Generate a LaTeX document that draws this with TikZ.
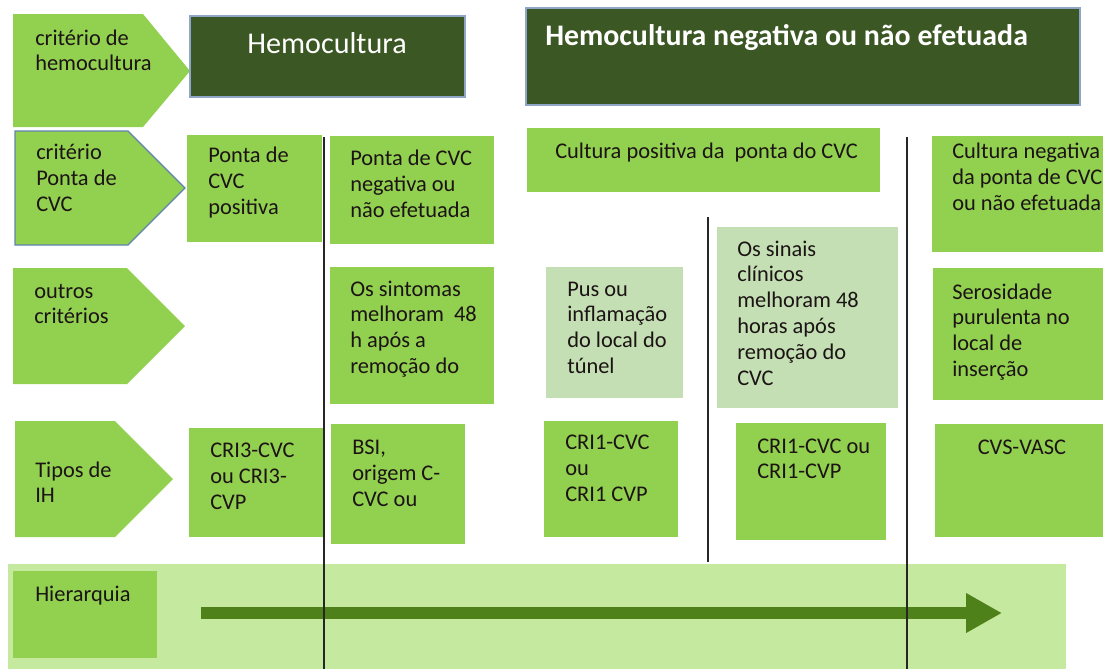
\documentclass[tikz,border=0pt]{standalone}
\usepackage{fontspec}
\setmainfont{Carlito}
\usetikzlibrary{arrows.meta}
\definecolor{gmain}{RGB}{146,208,80}
\definecolor{glight}{RGB}{196,223,180}
\definecolor{gband}{RGB}{197,233,158}
\definecolor{gdark}{RGB}{59,87,35}
\definecolor{garrow}{RGB}{79,129,27}
\definecolor{edgeblue}{RGB}{95,130,175}
\definecolor{txt}{RGB}{28,20,20}
\tikzset{
  gfill/.style={fill=gmain},
  lfill/.style={fill=glight},
  darkbox/.style={fill=gdark, draw=edgeblue!70, line width=0.8pt},
  lbl/.style={anchor=base west, inner sep=0pt, align=left, text=txt,
    font=\fontsize{16.8}{19.4}\selectfont},
  head/.style={inner sep=0pt, text=white},
  divider/.style={draw=black!85, line width=1.1pt},
}
\begin{document}
\begin{tikzpicture}[x=0.75pt,y=-0.75pt]
\useasboundingbox (0,0) rectangle (1103,669);

% hierarchy band
\fill[gband] (8,564) rectangle (1066,669);
\fill[gfill] (13,571) rectangle (157,658);
\node[lbl] (hier) at (35,601) {Hierarquia};
\coordinate (aStart) at (201,613);
\coordinate (aEnd) at (1002,613);
\draw[garrow, line width=9pt, -{Triangle[length=27pt,width=28pt]}] (aStart) -- (aEnd);

% chevrons (label anchors are at the baseline of the last line)
\fill[gmain] (13,14) -- (143,14) -- (190,71) -- (143,127) -- (13,127) -- cycle;
\node[lbl] (c1) at (35,70.9) {critério de\\hemocultura};
\filldraw[gmain, draw=edgeblue, line width=1pt] (15,131) -- (128,131) -- (185,188) -- (128,245) -- (15,245) -- cycle;
\node[lbl] (c2) at (36,211.7) {critério\\Ponta de\\CVC};
\fill[gmain] (13,268) -- (127,268) -- (185,326) -- (127,384) -- (13,384) -- cycle;
\node[lbl] (c3) at (34,323.9) {outros\\critérios};
\fill[gmain] (15,421) -- (115,421) -- (173,479) -- (115,537) -- (15,537) -- cycle;
\node[lbl] (c4) at (35,502.9) {Tipos de\\IH};

% headings
\draw[darkbox] (190,16) rectangle (465,97);
\node[head, anchor=base, font=\fontsize{22.6}{26}\selectfont] (h1) at (327,53) {Hemocultura};
\draw[darkbox] (526,8) rectangle (1080,105);
\node[head, anchor=base west, font=\bfseries\fontsize{22.4}{26}\selectfont] (h2) at (545,45) {Hemocultura negativa ou não efetuada};

% row 2
\fill[gfill] (187,135) rectangle (322,242);
\node[lbl] (r2a) at (208,214.7) {Ponta de\\CVC\\positiva};
\fill[gfill] (330,136) rectangle (494,244);
\node[lbl] (r2b) at (350,217.7) {Ponta de CVC\\negativa ou\\não efetuada};
\fill[gfill] (527,128) rectangle (880,192);
\node[lbl] (r2c) at (555,158) {Cultura positiva da\ \ ponta do CVC};
\fill[gfill] (932,136) rectangle (1103,252);
\node[lbl] (r2d) at (952,210.7) {Cultura negativa\\da ponta de CVC\\ou não efetuada};

% row 3
\fill[gfill] (330,267) rectangle (494,404);
\node[lbl] (r3a) at (350,373.6) {Os sintomas\\melhoram\ \ 48\\h após a\\remoção do};
\fill[lfill] (546,267) rectangle (683,398);
\node[lbl] (r3b) at (567,373.6) {Pus ou\\inflamação\\do local do\\túnel};
\fill[lfill] (717,227) rectangle (898,408);
\node[lbl] (r3c) at (737,385.4) {Os sinais\\clínicos\\melhoram 48\\horas após\\remoção do\\CVC};
\fill[gfill] (933,268) rectangle (1103,400);
\node[lbl] (r3d) at (952,376.6) {Serosidade\\purulenta no\\local de\\inserção};

% row 4
\fill[gfill] (189,428) rectangle (323,537);
\node[lbl] (r4a) at (210,509.7) {CRI3-CVC\\ou CRI3-\\CVP};
\fill[gfill] (331,424) rectangle (465,544);
\node[lbl] (r4b) at (352,506.7) {BSI,\\origem C-\\CVC ou};
\fill[gfill] (544,421) rectangle (678,537);
\node[lbl] (r4c) at (565,501.7) {CRI1-CVC\\ou\\CRI1 CVP};
\fill[gfill] (736,423) rectangle (886,540);
\node[lbl] (r4d) at (757,478.9) {CRI1-CVC ou\\CRI1-CVP};
\fill[gfill] (935,424) rectangle (1103,537);
\node[lbl, anchor=base] (r4e) at (1022,454) {CVS-VASC};

% dividers
\draw[divider] (324,137) -- (324,669);
\draw[divider] (708,217) -- (708,562);
\draw[divider] (907,137) -- (907,669);
\end{tikzpicture}
\end{document}
